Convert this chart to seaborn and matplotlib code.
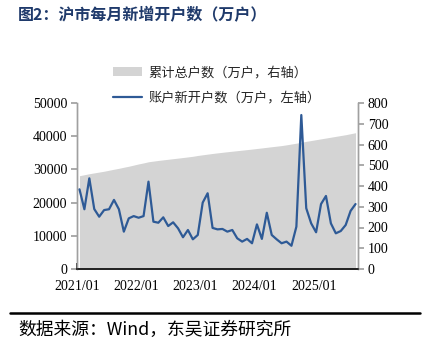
import numpy as np
import pandas as pd
import matplotlib
matplotlib.use("Agg")
import matplotlib.pyplot as plt
import seaborn as sns

sns.set_theme(style="white")
plt.rcParams['font.family'] = ['Liberation Serif', 'Noto Sans CJK SC']

months = pd.date_range("2021-01-01", "2025-09-01", freq="MS").strftime("%Y/%m").tolist()

new_accounts = [384, 288, 437, 289, 252, 284, 288, 333, 288, 180,
                244, 255, 247, 255, 421, 228, 223, 249, 207, 225,
                196, 153, 188, 143, 164, 320, 365, 198, 191, 193,
                180, 188, 148, 132, 145, 124, 215, 145, 271, 164,
                143, 124, 132, 112, 204, 742, 293, 220, 177, 313,
                352, 220, 172, 183, 212, 280, 313]

total_accounts = [28100, 28400, 28700, 28950, 29200, 29450, 29750, 30050, 30330, 30650,
                  30950, 31300, 31650, 31950, 32300, 32500, 32700, 32880, 33050, 33230,
                  33400, 33580, 33760, 33950, 34200, 34400, 34600, 34800, 34980, 35150,
                  35320, 35480, 35640, 35800, 35960, 36120, 36300, 36470, 36650, 36830,
                  37000, 37170, 37400, 37650, 37900, 38150, 38450, 38700, 38950, 39200,
                  39450, 39700, 39950, 40200, 40450, 40750, 41050]

xtick_labels = ["2021/01", "2022/01", "2023/01", "2024/01", "2025/01"]
left_ticks = [0, 10000, 20000, 30000, 40000, 50000]
right_ticks = [0, 100, 200, 300, 400, 500, 600, 700, 800]

title = "图2：沪市每月新增开户数（万户）"
label_total = "累计总户数（万户，右轴）"
label_new = "账户新开户数（万户，左轴）"
source = "数据来源：Wind，东吴证券研究所"

df = pd.DataFrame({"month": months, "idx": np.arange(len(months)),
                   "new": new_accounts, "total": total_accounts})

fig = plt.figure(figsize=(4.30, 3.47), dpi=100)
ax = fig.add_axes([77/430, 1-269/347, (358-77)/430, (269-103)/347])
ax2 = ax.twinx()

area_color = "#D4D4D4"
line_color = "#2E5A96"

ax.fill_between(df["idx"], 0, df["total"], color=area_color, linewidth=0, zorder=1)
sns.lineplot(data=df, x="idx", y="new", ax=ax2, color=line_color, linewidth=1.6, zorder=3)

ax.set_xlim(-0.5, len(months) - 0.5)
ax.set_ylim(0, 50000)
ax2.set_ylim(0, 800)
ax.set_yticks(left_ticks)
ax.set_yticklabels([str(v) for v in left_ticks])
ax2.set_yticks(right_ticks)
ax2.set_yticklabels([str(v) for v in right_ticks])
xt = [months.index(m) - 0.5 for m in xtick_labels]
ax.set_xticks(xt)
ax.set_xticklabels(xtick_labels)
ax2.set_xlabel("")
ax2.set_ylabel("")
ax.set_xlabel("")
ax.set_ylabel("")

for a in (ax, ax2):
    a.grid(False)
    a.spines['top'].set_visible(False)
    a.spines['left'].set_color("#A0A0A0")
    a.spines['right'].set_color("#A0A0A0")
    a.spines['bottom'].set_color("#202020")
    a.spines['left'].set_linewidth(1.0)
    a.spines['right'].set_linewidth(1.0)
    a.spines['bottom'].set_linewidth(1.2)
    a.set_facecolor("none")

ax.tick_params(axis='y', direction='out', length=4, color="#A0A0A0", labelsize=10,
               left=True, pad=3, labelcolor="#000000")
ax2.tick_params(axis='y', direction='out', length=4, color="#A0A0A0", labelsize=10,
                right=True, pad=3, labelcolor="#000000")
ax.tick_params(axis='x', direction='in', length=4, color="#202020", labelsize=10,
               bottom=True, pad=8, labelcolor="#000000")
ax2.tick_params(axis='x', bottom=False, labelbottom=False)

# Legend
from matplotlib.patches import Patch
from matplotlib.lines import Line2D
handles = [Patch(facecolor=area_color, edgecolor='none', label=label_total),
           Line2D([0], [0], color=line_color, linewidth=1.6, label=label_new)]
fig.legend(handles=handles, loc='upper left', bbox_to_anchor=(113/430, 1-66/347),
           frameon=False, prop={'family': ['Noto Sans CJK SC'], 'size': 9.5},
           handlelength=2.2, handleheight=0.6, handletextpad=0.5, labelspacing=0.95,
           borderaxespad=0, borderpad=0)

fig.text(18/430, 1-15/347, title, fontsize=11.5, fontweight='bold', color="#1F3A6B",
         family=['Noto Sans CJK SC'], va='center', ha='left')

fig.add_artist(Line2D([10/430, 420/430], [1-313/347, 1-313/347], color='black',
                      linewidth=1.8, transform=fig.transFigure))
fig.text(18/430, 1-330/347, source, fontsize=12.8, color="#000000",
         family=['Noto Sans CJK SC'], va='center', ha='left')

fig.savefig("out.png", dpi=100)
